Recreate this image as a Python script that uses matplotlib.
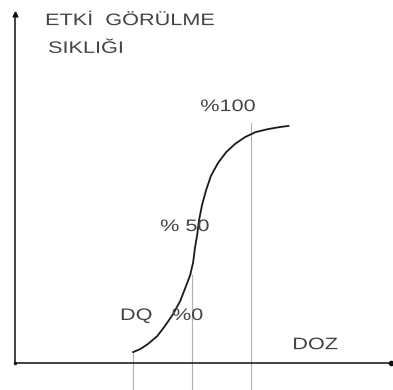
import matplotlib
matplotlib.use("Agg")
import matplotlib.pyplot as plt
from matplotlib.patheffects import AbstractPathEffect
from matplotlib.transforms import Affine2D

# dose-response curve (dose units, effect %)
doz = [2.00, 2.12, 2.25, 2.41, 2.54, 2.68, 2.80, 2.88, 2.97, 3.02, 3.05, 3.09,
       3.12, 3.17, 3.24, 3.32, 3.44, 3.58, 3.73, 3.90, 4.08, 4.29, 4.49, 4.64]
etki = [4.8, 6.1, 8.3, 11.8, 16.2, 21.5, 27.2, 32.5, 38.6, 44.3, 50.4, 56.6,
        62.7, 69.3, 75.9, 82.0, 87.7, 92.5, 96.1, 99.1, 101.3, 102.6, 103.5, 104.0]

# reference doses (DQ, %0 line, %100 line) and how high each guide line goes
ref_doz = [2.0, 3.0, 4.0]
ref_top = [4.8, 38.6, 105.3]

# labels and where their left/baseline sits
labels = ["ETKİ  GÖRÜLME", "SIKLIĞI", "%100", "% 50", "DQ", "%0", "DOZ"]
label_x = [0.51, 0.56, 3.14, 2.46, 1.78, 2.66, 4.70]
label_y = [148.2, 136.0, 110.5, 57.9, 18.9, 18.9, 6.1]


class Widen(AbstractPathEffect):
    """stretch glyphs sideways, the scan has a wide sans font"""
    def __init__(self, sx):
        super().__init__()
        self.sx = sx

    def draw_path(self, renderer, gc, tpath, affine, rgbFace=None):
        renderer.draw_path(gc, tpath, Affine2D().scale(self.sx, 1) + affine, rgbFace)


plt.rcParams['font.family'] = ['Liberation Sans', 'DejaVu Sans']
txt = "#444444"

fig = plt.figure(figsize=(3.93, 3.90), dpi=100)
ax = fig.add_axes([0, 0, 1, 1])
ax.set_xlim(-0.254, 6.407)
ax.set_ylim(-11.8, 159.2)
ax.axis("off")

# guide lines
for d, top in zip(ref_doz, ref_top):
    ax.plot([d, d], [-11.8, top], color="#b0b0b0", lw=0.8)

# axes with arrow heads
ax.plot([0, 0], [0, 153], color="#111111", lw=1.1)
ax.plot([0, 6.38], [0, 0], color="#111111", lw=1.1)
ax.plot([0], [153], marker="^", color="#111111", ms=3.5)
ax.plot([6.38], [0], marker="o", color="#111111", ms=3)
ax.plot([0], [0], marker="o", color="#111111", ms=1.5)

# the curve
ax.plot(doz, etki, color="#1a1a1a", lw=1.3, solid_capstyle="round")

for s, x, y in zip(labels, label_x, label_y):
    ax.text(x, y, s, fontsize=12, color=txt, ha="left", va="baseline",
            path_effects=[Widen(1.3)])

fig.savefig("out.png", dpi=100)
